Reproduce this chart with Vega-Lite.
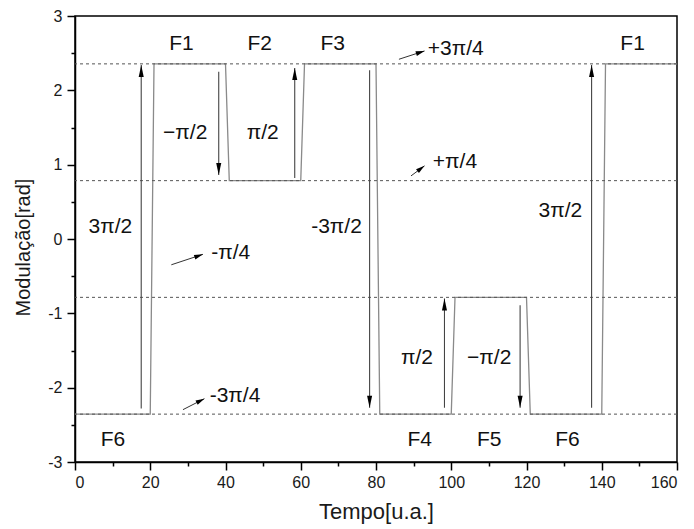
{
  "$schema": "https://vega.github.io/schema/vega-lite/v6.json",
  "width": 602,
  "height": 446,
  "autosize": {"type": "none"},
  "padding": {"left": 75, "top": 16, "right": 17, "bottom": 67},
  "background": "white",
  "config": {
    "font": "Liberation Sans",
    "view": {"stroke": "black", "strokeWidth": 1.5},
    "axis": {
      "grid": false,
      "domainColor": "black",
      "domainWidth": 1.5,
      "tickColor": "black",
      "tickWidth": 1.5,
      "labelColor": "#1a1a1a",
      "titleColor": "#1a1a1a",
      "labelFont": "Liberation Sans",
      "titleFont": "Liberation Sans",
      "labelFontSize": 16,
      "titleFontSize": 20,
      "titleFontWeight": "normal"
    }
  },
  "datasets": {
    "signal": [
      {"t": 0, "m": -2.356}, {"t": 20, "m": -2.356}, {"t": 21, "m": 2.356}, {"t": 40, "m": 2.356},
      {"t": 41, "m": 0.785}, {"t": 60, "m": 0.785}, {"t": 61, "m": 2.356}, {"t": 80, "m": 2.356},
      {"t": 81, "m": -2.356}, {"t": 100, "m": -2.356}, {"t": 101, "m": -0.785}, {"t": 120, "m": -0.785},
      {"t": 121, "m": -2.356}, {"t": 140, "m": -2.356}, {"t": 141, "m": 2.356}, {"t": 160, "m": 2.356}
    ],
    "levels": [{"m": 2.356}, {"m": 0.785}, {"m": -0.785}, {"m": -2.356}],
    "arrows": [
      {"t": 17.6, "from": -2.28, "to": 2.34, "dir": "up"},
      {"t": 38.2, "from": 2.25, "to": 0.86, "dir": "down"},
      {"t": 58.4, "from": 0.82, "to": 2.3, "dir": "up"},
      {"t": 78.3, "from": 2.27, "to": -2.27, "dir": "down"},
      {"t": 98.2, "from": -2.27, "to": -0.8, "dir": "up"},
      {"t": 118.3, "from": -0.89, "to": -2.27, "dir": "down"},
      {"t": 137.3, "from": -2.27, "to": 2.34, "dir": "up"}
    ],
    "pointers": [
      {"id": "a", "t1": 86.1, "m1": 2.418, "t2": 92.9, "m2": 2.53},
      {"id": "b", "t1": 89.3, "m1": 0.849, "t2": 92.9, "m2": 0.984},
      {"id": "c", "t1": 25.6, "m1": -0.347, "t2": 34.0, "m2": -0.206},
      {"id": "d", "t1": 28.7, "m1": -2.296, "t2": 34.4, "m2": -2.148}
    ],
    "centerLabels": [
      {"t": 9.4, "m": 0.16, "label": "3π/2"},
      {"t": 29.3, "m": 1.42, "label": "−π/2"},
      {"t": 49.9, "m": 1.42, "label": "π/2"},
      {"t": 69.5, "m": 0.16, "label": "-3π/2"},
      {"t": 90.9, "m": -1.6, "label": "π/2"},
      {"t": 110.1, "m": -1.6, "label": "−π/2"},
      {"t": 129.0, "m": 0.37, "label": "3π/2"}
    ],
    "leftLabels": [
      {"t": 93.75, "m": 2.553, "label": "+3π/4"},
      {"t": 95.1, "m": 1.042, "label": "+π/4"},
      {"t": 36.2, "m": -0.185, "label": "-π/4"},
      {"t": 35.8, "m": -2.117, "label": "-3π/4"}
    ],
    "phases": [
      {"t": 28.3, "m": 2.63, "label": "F1"},
      {"t": 49.1, "m": 2.63, "label": "F2"},
      {"t": 68.5, "m": 2.63, "label": "F3"},
      {"t": 148.2, "m": 2.63, "label": "F1"},
      {"t": 10.1, "m": -2.7, "label": "F6"},
      {"t": 91.6, "m": -2.7, "label": "F4"},
      {"t": 110.1, "m": -2.7, "label": "F5"},
      {"t": 130.9, "m": -2.7, "label": "F6"}
    ]
  },
  "resolve": {"axis": {"x": "independent", "y": "independent"}},
  "layer": [
    {
      "data": {"name": "signal"},
      "mark": {"type": "line", "color": "#8a8a8a", "strokeWidth": 1.3},
      "encoding": {
        "x": {"field": "t", "type": "quantitative", "scale": {"domain": [0, 160], "nice": false, "zero": false},
              "axis": {"orient": "bottom", "values": [0, 20, 40, 60, 80, 100, 120, 140, 160], "tickSize": 8, "labelPadding": 4, "title": "Tempo[u.a.]", "titleFontSize": 22, "titlePadding": 11}},
        "y": {"field": "m", "type": "quantitative", "scale": {"domain": [-3, 3], "nice": false, "zero": false},
              "axis": {"orient": "left", "values": [-3, -2, -1, 0, 1, 2, 3], "labelExpr": "'' + datum.value", "tickSize": 8, "labelPadding": 5, "title": "Modulação[rad]", "titlePadding": 14, "titleY": 231}}
      }
    },
    {
      "data": {"name": "levels"},
      "mark": {"type": "rule", "color": "#555", "strokeWidth": 1, "strokeDash": [3, 3]},
      "encoding": {
        "y": {"field": "m", "type": "quantitative", "axis": null}
      }
    },
    {
      "data": {"name": "arrows"},
      "mark": {"type": "rule", "color": "#444", "strokeWidth": 1.1},
      "encoding": {
        "x": {"field": "t", "type": "quantitative",
              "axis": {"orient": "bottom", "values": [10, 30, 50, 70, 90, 110, 130, 150], "tickSize": 4, "labels": false, "domain": false, "title": null}},
        "y": {"field": "from", "type": "quantitative",
              "axis": {"orient": "left", "values": [-2.5, -1.5, -0.5, 0.5, 1.5, 2.5], "tickSize": 4, "labels": false, "domain": false, "title": null}},
        "y2": {"field": "to"}
      }
    },
    {
      "data": {"name": "arrows"},
      "transform": [{"filter": "datum.dir == 'up'"}],
      "mark": {"type": "point", "shape": "M0,0L0.42,2L-0.42,2Z", "size": 144, "filled": true, "color": "black", "opacity": 1, "strokeWidth": 0},
      "encoding": {
        "x": {"field": "t", "type": "quantitative", "axis": null},
        "y": {"field": "to", "type": "quantitative", "axis": null}
      }
    },
    {
      "data": {"name": "arrows"},
      "transform": [{"filter": "datum.dir == 'down'"}],
      "mark": {"type": "point", "shape": "M0,0L0.42,-2L-0.42,-2Z", "size": 144, "filled": true, "color": "black", "opacity": 1, "strokeWidth": 0},
      "encoding": {
        "x": {"field": "t", "type": "quantitative", "axis": null},
        "y": {"field": "to", "type": "quantitative", "axis": null}
      }
    },
    {
      "data": {"name": "pointers"},
      "mark": {"type": "rule", "color": "#333", "strokeWidth": 1},
      "encoding": {
        "x": {"field": "t1", "type": "quantitative", "axis": null},
        "y": {"field": "m1", "type": "quantitative", "axis": null},
        "x2": {"field": "t2"},
        "y2": {"field": "m2"}
      }
    },
    {
      "data": {"name": "pointers"},
      "transform": [{"filter": "datum.id == 'a'"}],
      "mark": {"type": "point", "shape": "M0,0L0.6,2.2L-0.6,2.2Z", "size": 64, "filled": true, "color": "black", "opacity": 1, "strokeWidth": 0, "angle": 72},
      "encoding": {
        "x": {"field": "t2", "type": "quantitative", "axis": null},
        "y": {"field": "m2", "type": "quantitative", "axis": null}
      }
    },
    {
      "data": {"name": "pointers"},
      "transform": [{"filter": "datum.id == 'b'"}],
      "mark": {"type": "point", "shape": "M0,0L0.6,2.2L-0.6,2.2Z", "size": 64, "filled": true, "color": "black", "opacity": 1, "strokeWidth": 0, "angle": 53},
      "encoding": {
        "x": {"field": "t2", "type": "quantitative", "axis": null},
        "y": {"field": "m2", "type": "quantitative", "axis": null}
      }
    },
    {
      "data": {"name": "pointers"},
      "transform": [{"filter": "datum.id == 'c'"}],
      "mark": {"type": "point", "shape": "M0,0L0.6,2.2L-0.6,2.2Z", "size": 64, "filled": true, "color": "black", "opacity": 1, "strokeWidth": 0, "angle": 71},
      "encoding": {
        "x": {"field": "t2", "type": "quantitative", "axis": null},
        "y": {"field": "m2", "type": "quantitative", "axis": null}
      }
    },
    {
      "data": {"name": "pointers"},
      "transform": [{"filter": "datum.id == 'd'"}],
      "mark": {"type": "point", "shape": "M0,0L0.6,2.2L-0.6,2.2Z", "size": 64, "filled": true, "color": "black", "opacity": 1, "strokeWidth": 0, "angle": 63},
      "encoding": {
        "x": {"field": "t2", "type": "quantitative", "axis": null},
        "y": {"field": "m2", "type": "quantitative", "axis": null}
      }
    },
    {
      "data": {"name": "centerLabels"},
      "mark": {"type": "text", "fontSize": 21, "color": "#111", "align": "center", "baseline": "middle"},
      "encoding": {
        "x": {"field": "t", "type": "quantitative", "axis": null},
        "y": {"field": "m", "type": "quantitative", "axis": null},
        "text": {"field": "label"}
      }
    },
    {
      "data": {"name": "leftLabels"},
      "mark": {"type": "text", "fontSize": 21, "color": "#111", "align": "left", "baseline": "middle"},
      "encoding": {
        "x": {"field": "t", "type": "quantitative", "axis": null},
        "y": {"field": "m", "type": "quantitative", "axis": null},
        "text": {"field": "label"}
      }
    },
    {
      "data": {"name": "phases"},
      "mark": {"type": "text", "fontSize": 21, "color": "#111", "align": "center", "baseline": "middle"},
      "encoding": {
        "x": {"field": "t", "type": "quantitative", "axis": null},
        "y": {"field": "m", "type": "quantitative", "axis": null},
        "text": {"field": "label"}
      }
    }
  ]
}
